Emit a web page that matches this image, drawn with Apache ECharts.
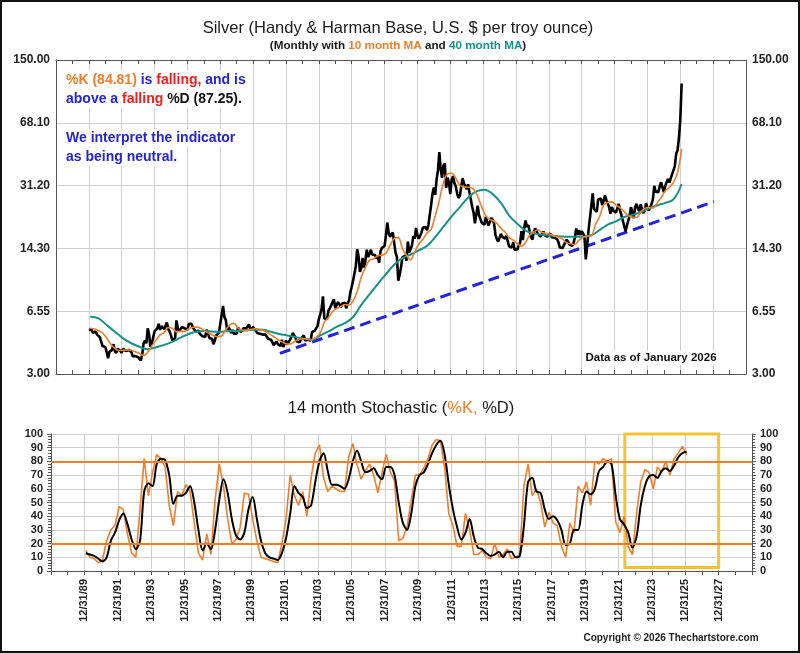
<!DOCTYPE html>
<html>
<head>
<meta charset="utf-8">
<script src="https://cdn.jsdelivr.net/npm/echarts@6/dist/echarts.min.js"></script>
<style>
  html, body { margin: 0; padding: 0; background: #fff; }
  #main { width: 800px; height: 653px; }
</style>
</head>
<body>
<div id="main"></div>
<script>
// monthly silver, Dec 1989 .. Jan 2026
var price = [5.20,
  5.30, 5.20, 5.00, 5.05, 5.10, 4.90, 4.85, 4.75, 4.70, 4.25, 4.15, 4.20,
  3.95, 3.65, 3.95, 3.95, 4.05, 4.35, 4.00, 3.90, 4.10, 4.05, 4.00, 3.90,
  4.10, 4.10, 4.00, 3.95, 4.05, 4.00, 3.95, 3.75, 3.75, 3.75, 3.75, 3.70,
  3.65, 3.55, 3.85, 4.40, 4.55, 4.40, 5.30, 4.90, 4.20, 4.40, 4.45, 5.10,
  5.15, 5.30, 5.60, 5.20, 5.45, 5.35, 5.25, 5.35, 5.70, 5.25, 5.10, 4.85,
  4.55, 4.55, 4.70, 5.85, 5.30, 5.10, 5.20, 5.40, 5.50, 5.30, 5.25, 5.20,
  5.60, 5.50, 5.60, 5.35, 5.35, 5.10, 5.05, 5.15, 4.95, 4.85, 4.80, 4.80,
  4.75, 5.20, 5.00, 4.70, 4.80, 4.65, 4.35, 4.55, 4.85, 4.75, 5.00, 5.60,
  5.60, 7.00, 6.10, 5.90, 5.20, 5.40, 5.35, 5.00, 5.20, 4.95, 5.00, 4.95,
  5.35, 5.45, 5.05, 5.05, 5.30, 5.20, 5.30, 5.20, 5.55, 5.20, 5.15, 5.40,
  5.25, 5.20, 5.00, 5.10, 4.95, 5.00, 4.90, 4.90, 4.90, 4.80, 4.65, 4.60,
  4.60, 4.50, 4.30, 4.40, 4.50, 4.35, 4.25, 4.25, 4.60, 4.20, 4.15, 4.55,
  4.35, 4.45, 4.60, 4.60, 5.00, 4.85, 4.70, 4.50, 4.55, 4.45, 4.65, 4.65,
  4.85, 4.55, 4.50, 4.60, 4.55, 4.55, 5.05, 5.05, 5.15, 5.05, 5.45, 5.95,
  6.30, 6.75, 7.90, 6.00, 6.00, 5.95, 6.60, 6.80, 7.05, 7.35, 7.60, 6.80,
  6.65, 7.35, 7.15, 6.90, 7.20, 7.25, 7.30, 6.80, 7.25, 7.45, 8.30, 8.90,
  9.60, 9.60, 11.50, 14.20, 13.00, 10.70, 11.25, 12.75, 11.30, 12.30, 14.10, 12.90,
  13.40, 14.10, 13.30, 13.50, 13.20, 12.65, 13.00, 12.00, 13.80, 14.40, 14.30, 14.80,
  16.80, 19.80, 17.40, 16.60, 16.80, 17.50, 17.50, 13.60, 12.90, 9.60, 10.30, 11.30,
  12.80, 13.00, 13.10, 12.30, 15.60, 13.60, 13.80, 14.90, 16.70, 16.20, 18.50, 16.90,
  16.20, 16.30, 17.50, 18.60, 18.40, 18.70, 18.00, 19.20, 21.80, 24.60, 28.30, 30.60,
  27.90, 33.90, 37.90, 47.60, 38.60, 34.60, 40.20, 41.40, 30.50, 34.60, 32.70, 28.20,
  33.70, 35.30, 32.40, 31.10, 28.40, 26.90, 27.60, 31.00, 34.40, 32.20, 33.00, 30.00,
  31.90, 28.90, 28.30, 24.10, 22.40, 19.60, 19.90, 24.40, 21.70, 21.90, 19.70, 19.50,
  19.30, 21.30, 19.80, 19.10, 19.30, 21.00, 20.40, 19.50, 17.00, 16.10, 15.60, 15.80,
  17.20, 16.60, 16.80, 16.20, 16.80, 15.60, 14.70, 14.60, 14.50, 15.50, 14.10, 13.80,
  14.20, 14.90, 15.40, 17.80, 15.90, 18.60, 20.30, 18.70, 19.20, 17.70, 16.50, 16.00,
  17.60, 18.40, 18.20, 17.20, 17.50, 16.60, 16.80, 17.70, 16.90, 16.70, 16.60, 17.00,
  17.30, 16.50, 16.30, 16.40, 16.50, 16.10, 15.50, 14.50, 14.70, 14.40, 14.20, 15.50,
  16.00, 15.60, 15.10, 15.00, 14.80, 15.30, 16.40, 18.40, 17.00, 18.00, 17.00, 17.80,
  18.00, 16.70, 12.50, 15.00, 18.00, 18.20, 24.30, 28.50, 23.50, 24.00, 22.60, 26.40,
  26.90, 26.70, 24.60, 25.90, 27.80, 26.10, 25.50, 24.00, 22.10, 24.00, 23.00, 23.30,
  22.40, 22.60, 25.00, 23.00, 21.70, 20.30, 20.30, 17.80, 19.00, 19.20, 21.60, 24.00,
  23.60, 20.90, 24.00, 25.00, 23.60, 22.80, 24.80, 24.70, 22.30, 22.90, 25.20, 23.80,
  23.00, 22.70, 24.90, 26.50, 31.30, 29.10, 28.90, 28.90, 31.20, 32.70, 30.60, 28.90,
  31.20, 31.20, 34.10, 32.60, 33.00, 36.10, 36.70, 40.00, 46.60, 48.70, 56.50, 71.00,
  112.0];

// 10 month MA, quarterly from Jan 1990
var ma10 = [
  5.30, 5.25, 5.15, 5.00,  4.70, 4.34, 4.13, 4.02,  4.03, 4.05, 4.03, 3.96,
  3.87, 3.77, 3.94, 4.25,  4.56, 4.88, 5.02, 5.35,  5.31, 5.07, 5.10, 5.10,
  5.28, 5.37, 5.38, 5.29,  5.10, 4.97, 4.85, 4.77,  4.83, 5.20, 5.54, 5.64,
  5.31, 5.17, 5.15, 5.22,  5.27, 5.25, 5.18, 5.05,  4.88, 4.72, 4.56, 4.44,
  4.36, 4.38, 4.54, 4.62,  4.66, 4.63, 4.59, 4.75,  4.99, 5.72, 6.05, 6.53,
  6.80, 6.93, 7.13, 7.07,  7.45, 8.40, 10.05, 11.28, 12.40, 12.61, 13.08, 13.19,
  13.50, 14.90, 16.20, 16.40, 14.35, 13.16, 12.45, 13.70, 15.16, 16.06, 17.40, 18.16,
  21.57, 26.10, 32.60, 36.30, 36.60, 34.40, 31.40, 30.90, 30.70, 30.40, 28.50, 25.10,
  22.15, 20.70, 20.30, 19.60, 18.40, 17.60, 16.40, 15.90, 15.26, 14.70, 15.50, 16.90,
  17.60, 18.10, 17.50, 17.30, 17.10, 16.80, 16.60, 16.10, 15.40, 15.20, 15.06, 15.90,
  16.50, 16.70, 16.80, 19.25, 21.30, 24.60, 25.45, 25.60, 24.60, 23.80, 22.70, 21.50,
  21.20, 21.10, 22.40, 23.60, 23.90, 23.70, 25.20, 27.00, 29.30, 30.70, 32.70, 37.00,
  49.60];

// 40 month MA, half-yearly from Jan 1990
var ma40 = [
  6.13, 6.00, 5.52, 5.08, 4.68, 4.40, 4.21, 4.08, 4.19, 4.31, 4.48, 4.72,
  4.94, 5.10, 5.13, 5.08, 5.08, 5.13, 5.13, 5.18, 5.20, 5.20, 5.08, 4.94,
  4.85, 4.75, 4.65, 4.60, 4.85, 5.10, 5.40, 5.65, 6.10, 7.10, 8.10, 9.20,
  10.4, 11.7, 12.7, 13.3, 14.0, 14.8, 16.5, 18.8, 21.4, 24.0, 27.0, 29.2,
  29.8, 28.2, 25.3, 21.6, 19.5, 17.9, 17.3, 17.0, 16.8, 16.7, 16.6, 16.6,
  16.6, 16.9, 18.0, 19.3, 20.1, 21.2, 21.8, 22.5, 23.6, 24.5, 25.3, 26.4,
  32.0];

// 14 month stochastic, quarterly from Jan 1990
var pctK = [
  15, 10, 9, 6,   8, 22, 30, 33,   47, 45, 27, 13,  10, 45, 82, 55,
  72, 85, 82, 76, 48, 33, 58, 55,  63, 58, 35, 13,  8, 27, 12, 52,
  78, 62, 38, 20, 23, 32, 57, 56,  38, 22, 10, 9,   8, 7, 6, 20,
  38, 70, 55, 48, 58, 40, 68, 86,  92, 68, 58, 62,  60, 58, 58, 83,
  93, 78, 67, 73, 78, 70, 57, 72,  85, 72, 66, 22,  24, 32, 52, 70,
  70, 75, 82, 92, 96, 95, 75, 42,  33, 18, 18, 42,  30, 12, 12, 15,
  10, 9, 20, 10,  12, 16, 9, 10,   12, 62, 78, 55,  60, 50, 32, 43,
  35, 33, 18, 10, 35, 28, 62, 57,  65, 48, 80, 78,  82, 80, 82, 36,
  28, 40, 18, 12, 42, 65, 74, 72,  60, 76, 72, 80,  70, 82, 86, 91,
  84.81];
var pctD = [
  13, 12, 11, 9,  7, 10, 22, 28,   37, 42, 34, 23,  16, 22, 58, 64,
  62, 78, 82, 81, 70, 49, 55, 55,  57, 62, 50, 30,  15, 20, 16, 30,
  52, 67, 57, 38, 26, 23, 28, 45,  54, 38, 22, 13,  10, 9, 8, 13,
  24, 42, 62, 57, 54, 46, 48, 65,  80, 86, 73, 63,  63, 62, 60, 67,
  80, 88, 80, 72, 73, 75, 70, 67,  76, 76, 70, 50,  35, 30, 42, 62,
  70, 72, 78, 86, 92, 95, 85, 63,  45, 32, 23, 28,  38, 25, 17, 16,
  13, 11, 12, 14, 10, 14, 14, 10,  11, 33, 65, 68,  58, 57, 45, 38,
  40, 37, 30, 19, 20, 30, 30, 48,  58, 56, 60, 73,  76, 80, 78, 55,
  38, 34, 28, 17, 25, 48, 62, 69,  70, 68, 73, 75,  73, 77, 83, 86,
  87.25];

var trendX = [2001.63, 2028.05];
var trendY = [3.88, 25.7];

var priceTicks = ['3.00', '6.55', '14.30', '31.20', '68.10', '150.00'];
var dateLabels = ['12/31/89', '12/31/91', '12/31/93', '12/31/95', '12/31/97', '12/31/99',
  '12/31/01', '12/31/03', '12/31/05', '12/31/07', '12/31/09', '12/31/11', '12/31/13',
  '12/31/15', '12/31/17', '12/31/19', '12/31/21', '12/31/23', '12/31/25', '12/31/27'];

var FONT = 'Arial, "Liberation Sans", sans-serif';
var ORANGE = '#f07d2a';
var TEAL = '#16918a';
var BLUE = '#2323d8';
var RED = '#f01e1e';
var GRIDC = '#cfcfcf';
var AXISC = '#555';

function pairs(arr, start, step) {
  return arr.map(function (v, i) { return [start + i * step, v]; });
}

var myChart = echarts.init(document.getElementById('main'));

function xAx(grid, pos, opts) {
  var a = {
    gridIndex: grid, type: 'value', min: 1988, max: 2030, interval: 2, position: pos,
    axisLine: { show: true, onZero: false, lineStyle: { color: AXISC } },
    axisTick: { show: true, inside: opts.inside, length: 4, lineStyle: { color: AXISC } },
    minorTick: { show: true, splitNumber: 2, length: 4, lineStyle: { color: AXISC } },
    axisLabel: { show: false },
    splitLine: { show: opts.split, lineStyle: { color: GRIDC } }
  };
  if (opts.labels) {
    a.axisLabel = {
      show: true, rotate: 90, margin: 8, fontFamily: FONT, fontWeight: 'bold', fontSize: 11, color: '#222',
      formatter: function (v) { return dateLabels[(v - 1990) / 2] || ''; }
    };
  }
  return a;
}

function priceAx(pos, split) {
  return {
    gridIndex: 0, type: 'value', min: 0, max: 5, interval: 1, position: pos,
    axisLine: { show: true, lineStyle: { color: AXISC } },
    axisTick: { show: false },
    axisLabel: {
      margin: 6, fontFamily: FONT, fontWeight: 'bold', fontSize: 12, color: '#222',
      formatter: function (v) { return priceTicks[v]; }
    },
    splitLine: { show: split, lineStyle: { color: GRIDC } }
  };
}

function stochAx(pos, split) {
  return {
    gridIndex: 1, type: 'value', min: 0, max: 100, interval: 10, position: pos,
    axisLine: { show: true, lineStyle: { color: AXISC } },
    axisTick: { show: true, length: 4, lineStyle: { color: AXISC } },
    minorTick: { show: true, splitNumber: 5, length: 3, lineStyle: { color: AXISC } },
    axisLabel: { margin: 8, fontFamily: FONT, fontWeight: 'bold', fontSize: 11, color: '#222' },
    splitLine: { show: split, lineStyle: { color: GRIDC } }
  };
}

// text block with white box behind it, like the original
function note(x, y, text, rich, extra) {
  var st = {
    text: text, verticalAlign: 'middle', font: 'bold 14px ' + FONT,
    backgroundColor: '#fff', padding: [2, 3]
  };
  if (rich) st.rich = rich;
  for (var k in extra) st[k] = extra[k];
  return { type: 'text', x: x, y: y, z: 10, style: st };
}

var b14 = 'bold 14px ' + FONT;

var option = {
  animation: false,
  backgroundColor: '#fff',
  grid: [
    { left: 56, right: 54, top: 60, height: 314 },
    { left: 51, right: 48, top: 434, height: 137 }
  ],
  xAxis: [
    xAx(0, 'bottom', { inside: true, split: true }),
    xAx(0, 'top', { inside: true, split: false }),
    xAx(1, 'bottom', { inside: false, split: true, labels: true })
  ],
  yAxis: [
    { gridIndex: 0, type: 'log', min: 3, max: 150, show: false },
    priceAx('left', true),
    priceAx('right', false),
    stochAx('left', true),
    stochAx('right', false)
  ],
  series: [
    {
      name: 'trend', type: 'line', xAxisIndex: 0, yAxisIndex: 0, symbol: 'none', z: 2,
      data: trendX.map(function (x, i) { return [x, trendY[i]]; }),
      lineStyle: { color: BLUE, width: 3, type: [11, 6] }
    },
    {
      name: 'price', type: 'line', xAxisIndex: 0, yAxisIndex: 0, symbol: 'none', z: 3,
      data: pairs(price, 1990, 1 / 12),
      lineStyle: { color: '#000', width: 2.6 }
    },
    {
      name: '40 month MA', type: 'line', xAxisIndex: 0, yAxisIndex: 0, symbol: 'none', z: 4,
      smooth: 0.4, data: pairs(ma40, 1990 + 1 / 12, 0.5),
      lineStyle: { color: TEAL, width: 2 }
    },
    {
      name: '10 month MA', type: 'line', xAxisIndex: 0, yAxisIndex: 0, symbol: 'none', z: 5,
      smooth: 0.35, data: pairs(ma10, 1990 + 1 / 12, 0.25),
      lineStyle: { color: ORANGE, width: 1.6 }
    },
    {
      name: '%K', type: 'line', xAxisIndex: 2, yAxisIndex: 3, symbol: 'none', z: 3, clip: false,
      data: pairs(pctK, 1990 + 1 / 12, 0.25),
      lineStyle: { color: ORANGE, width: 1.6 },
      markLine: {
        silent: true, symbol: 'none', label: { show: false },
        lineStyle: { color: ORANGE, width: 2, type: 'solid' },
        data: [{ yAxis: 20 }, { yAxis: 80 }]
      },
      markArea: {
        silent: true,
        itemStyle: { color: 'rgba(0,0,0,0)', borderColor: '#f6c433', borderWidth: 3 },
        data: [[{ coord: [2022.38, 2.5] }, { coord: [2028, 101.2] }]]
      }
    },
    {
      name: '%D', type: 'line', xAxisIndex: 2, yAxisIndex: 3, symbol: 'none', z: 4,
      smooth: 0.3, data: pairs(pctD, 1990 + 1 / 12, 0.25),
      lineStyle: { color: '#000', width: 2 }
    }
  ],
  graphic: [
    {
      type: 'text', x: 398, y: 28,
      style: { text: 'Silver (Handy & Harman Base, U.S. $ per troy ounce)', font: '16.5px ' + FONT, fill: '#1a1a1a', align: 'center', verticalAlign: 'middle' }
    },
    {
      type: 'text', x: 398, y: 46,
      style: {
        text: '{k|(Monthly with }{o|10 month MA}{k| and }{t|40 month MA}{k|)}',
        align: 'center', verticalAlign: 'middle', font: 'bold 11.7px ' + FONT,
        rich: {
          k: { fill: '#1a1a1a', font: 'bold 11.7px ' + FONT },
          o: { fill: ORANGE, font: 'bold 11.7px ' + FONT },
          t: { fill: TEAL, font: 'bold 11.7px ' + FONT }
        }
      }
    },
    note(63, 80, '{o|%K (84.81)}{b| is }{r|falling,}{b| and is}', {
      o: { fill: ORANGE, font: b14 }, b: { fill: BLUE, font: b14 }, r: { fill: RED, font: b14 }
    }),
    note(63, 99, '{b|above a }{r|falling }{k|%D (87.25).}', {
      b: { fill: BLUE, font: b14 }, r: { fill: RED, font: b14 }, k: { fill: '#111', font: b14 }
    }),
    note(63, 138, 'We interpret the indicator', null, { fill: BLUE }),
    note(63, 157, 'as being neutral.', null, { fill: BLUE }),
    note(651, 358, 'Data as of January 2026', null, { fill: '#111', align: 'center', font: 'bold 11.5px ' + FONT, padding: [1, 2] }),
    {
      type: 'text', x: 401, y: 408,
      style: {
        text: '{k|14 month Stochastic (}{o|%K,}{k| %D)}',
        align: 'center', verticalAlign: 'middle', font: '16.5px ' + FONT,
        rich: {
          k: { fill: '#1a1a1a', font: '16.5px ' + FONT },
          o: { fill: ORANGE, font: '16.5px ' + FONT }
        }
      }
    },
    {
      type: 'text', x: 671, y: 638,
      style: { text: 'Copyright \u00a9 2026 Thechartstore.com', align: 'center', verticalAlign: 'middle', font: 'bold 10px ' + FONT, fill: '#222' }
    },
    {
      type: 'rect', shape: { x: 1, y: 1, width: 798, height: 651 },
      style: { fill: 'none', stroke: '#111', lineWidth: 2 }, silent: true
    }
  ]
};

myChart.setOption(option);
</script>
</body>
</html>
